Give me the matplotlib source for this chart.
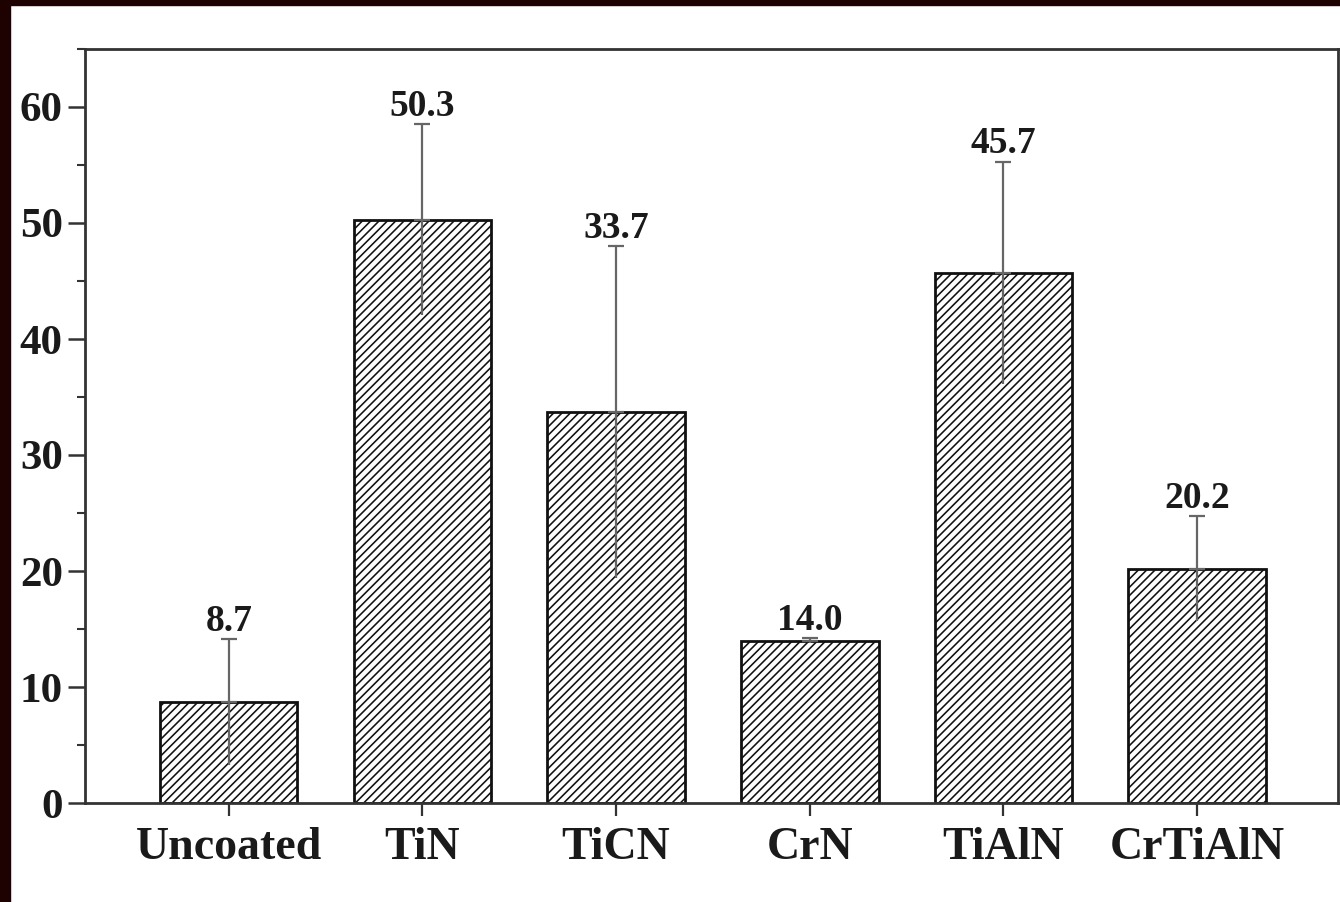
import numpy as np
import matplotlib.pyplot as plt
from matplotlib.patches import Rectangle
from matplotlib.ticker import MultipleLocator

# dados
categorias = ["Uncoated", "TiN", "TiCN", "CrN", "TiAlN", "CrTiAlN"]
valores = [8.7, 50.3, 33.7, 14.0, 45.7, 20.2]
erros = [5.4, 8.2, 14.3, 0.2, 9.6, 4.5]
rotulos = ["8.7", "50.3", "33.7", "14.0", "45.7", "20.2"]

plt.rcParams['font.family'] = ['Liberation Serif', 'DejaVu Serif']
plt.rcParams['font.weight'] = 'bold'
plt.rcParams['hatch.linewidth'] = 1.15
plt.rcParams['hatch.color'] = '#2a2a2a'

fig = plt.figure(figsize=(13.4, 9.02), dpi=100)
fig.patch.set_facecolor('white')

# moldura escura (topo e esquerda)
fig.patches.append(Rectangle((0, 1 - 5 / 902), 1, 5 / 902, transform=fig.transFigure,
                             color='#1e0202', zorder=10))
fig.patches.append(Rectangle((0, 0), 10 / 1340, 1, transform=fig.transFigure,
                             color='#1e0202', zorder=10))

ax = fig.add_axes([85 / 1340, 99 / 902, 1253 / 1340, 754 / 902])

x = np.arange(len(categorias))
ax.bar(x, valores, width=0.71, color='white', edgecolor='#111111',
       linewidth=2.0, hatch='////', zorder=2)

# barras de erro: parte de cima com capa, parte de baixo sem
ax.errorbar(x, valores, yerr=[np.zeros(len(x)), erros], fmt='none',
            ecolor='#666666', elinewidth=1.6, capsize=6, capthick=1.6, zorder=3)
ax.errorbar(x, valores, yerr=[erros, np.zeros(len(x))], fmt='none',
            ecolor='#666666', elinewidth=1.6, capsize=0, zorder=3)

for xi, v, e, r in zip(x, valores, erros, rotulos):
    ax.annotate(r, (xi, v + e), xytext=(0, 6), textcoords='offset points',
                ha='center', va='baseline', fontsize=27, color='#1a1a1a')

ax.set_xlim(-0.742, 5.727)
ax.set_ylim(0, 65)
ax.set_xticks(x)
ax.set_xticklabels(categorias, fontsize=33, color='#1a1a1a')
ax.yaxis.set_major_locator(MultipleLocator(10))
ax.yaxis.set_minor_locator(MultipleLocator(5))
ax.tick_params(axis='y', which='major', length=12, width=1.8, labelsize=31, pad=4,
               color='#333333', labelcolor='#1a1a1a')
ax.tick_params(axis='y', which='minor', length=6, width=1.5, color='#333333')
ax.tick_params(axis='x', which='major', length=9, width=1.6, pad=8, color='#333333')

for s in ax.spines.values():
    s.set_linewidth(2.0)
    s.set_color('#333333')

fig.savefig('out.png', dpi=100)
